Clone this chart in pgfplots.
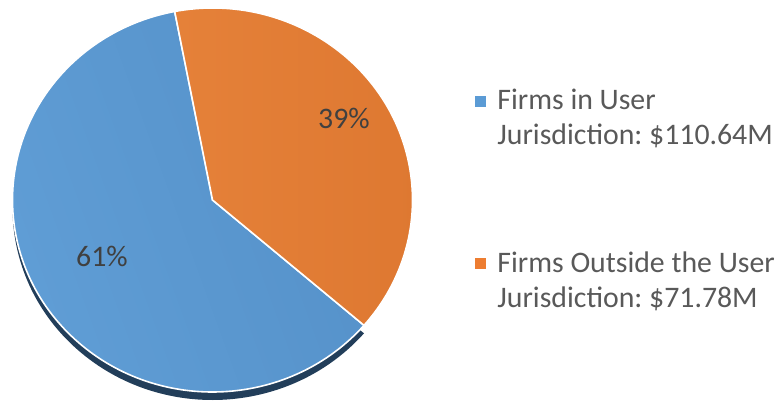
\documentclass[border=0pt]{standalone}
\usepackage{pgfplots}
\pgfplotsset{compat=1.18}
\usepackage{pgfplotstable}
\usepackage{fontspec}
\setmainfont{Carlito}
\frenchspacing
\definecolor{pieblueA}{RGB}{96,158,214}
\definecolor{pieblueB}{RGB}{85,145,201}
\definecolor{pieorangeA}{RGB}{229,129,57}
\definecolor{pieorangeB}{RGB}{222,120,49}
\definecolor{pieblue}{RGB}{91,155,213}
\definecolor{pieorange}{RGB}{237,125,49}
\definecolor{shadowc}{RGB}{34,62,90}
\definecolor{txt}{RGB}{64,64,64}
\definecolor{legtxt}{RGB}{89,89,89}

\pgfplotstableread{
share value
in 110.64
out 71.78
}\piedata

\begin{document}
\begin{tikzpicture}
\pgfplotstablegetelem{0}{value}\of\piedata \let\va\pgfplotsretval
\pgfplotstablegetelem{1}{value}\of\piedata \let\vb\pgfplotsretval
\pgfmathsetmacro{\tot}{\va+\vb}
\pgfmathsetmacro{\angA}{360*(\va/\tot)}
\pgfmathsetmacro{\angB}{360*(\vb/\tot)}
\pgfmathsetmacro{\startang}{100.9}
\pgfmathsetmacro{\midang}{\startang-\angB}
\pgfmathsetmacro{\endang}{\startang-360}
\begin{axis}[width=390.5pt,height=202pt,scale only axis,
  xmin=0,xmax=781,ymin=0,ymax=404, hide axis, clip=false]
  \begin{scope}
  \clip (axis cs:0,0) rectangle (axis cs:781,404);
  % side (depth) of the blue slice
  \fill[shadowc] ([shift={(0pt,-4pt)}]axis cs:212.5,204) -- ++(\midang:100pt and 96pt)
     arc[start angle=\midang, end angle=\endang, x radius=100pt, y radius=96pt] -- cycle;
  % blue slice
  \path[left color=pieblueA, right color=pieblueB, shading angle=110, draw=white, line width=0.8pt]
     (axis cs:212.5,204) -- ++(\midang:100pt and 96pt)
     arc[start angle=\midang, end angle=\endang, x radius=100pt, y radius=96pt] -- cycle;
  % orange slice
  \path[left color=pieorangeA, right color=pieorangeB, draw=white, line width=0.8pt]
     (axis cs:212.5,204) -- ++(\startang:100pt and 96pt)
     arc[start angle=\startang, end angle=\midang, x radius=100pt, y radius=96pt] -- cycle;
  \end{scope}
  \node[txt, font=\fontsize{14.9}{17.5}\selectfont] at (axis cs:344,286) {39\%};
  \node[txt, font=\fontsize{14.9}{17.5}\selectfont] at (axis cs:102,148) {61\%};
  % legend
  \addplot[only marks, mark=square*, mark size=2.5pt, color=pieblue] coordinates {(480,302.5)};
  \addplot[only marks, mark=square*, mark size=2.5pt, color=pieorange] coordinates {(480,140.5)};
  \begin{scope}[every node/.style={anchor=base west, inner sep=0pt, text=legtxt, font=\fontsize{14.9}{17.5}\selectfont}]
  \node at (axis cs:497,295) {Firms in User};
  \node at (axis cs:497,260) {Jurisdiction: \$110.64M};
  \node at (axis cs:497,132) {Firms Outside the User};
  \node at (axis cs:497,97) {Jurisdiction: \$71.78M};
  \end{scope}
\end{axis}
\end{tikzpicture}
\end{document}
